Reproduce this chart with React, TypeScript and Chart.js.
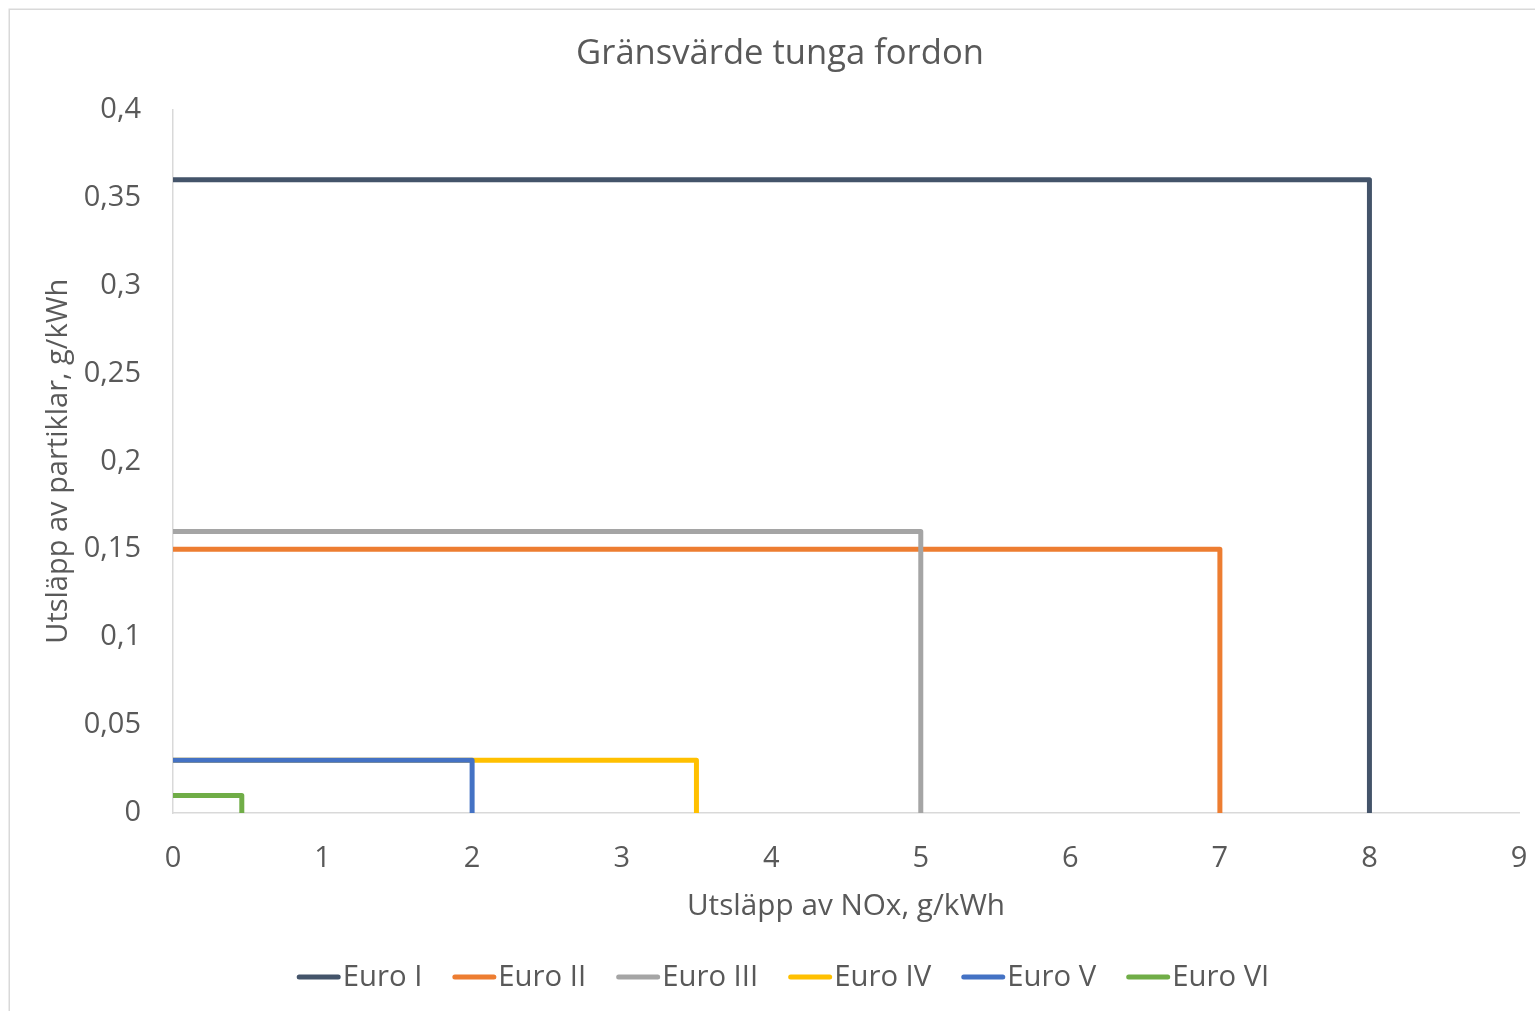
import React, { useEffect, useRef } from "react";
import { Chart, registerables } from "chart.js";

Chart.register(...registerables);

// ---- Data ----
const chartTitle = "Gränsvärde tunga fordon";
const xAxisTitle = "Utsläpp av NOx, g/kWh";
const yAxisTitle = "Utsläpp av partiklar, g/kWh";
const seriesNames = ["Euro I", "Euro II", "Euro III", "Euro IV", "Euro V", "Euro VI"];
const noxLimits = [8, 7, 5, 3.5, 2, 0.46];
const pmLimits = [0.36, 0.15, 0.16, 0.03, 0.03, 0.01];
const seriesColors = ["#44546A", "#ED7D31", "#A5A5A5", "#FFC000", "#4472C4", "#70AD47"];
const xMin = 0;
const xMax = 9;
const xStep = 1;
const yMin = 0;
const yMax = 0.4;
const yStep = 0.05;

const FONT = "'Open Sans', 'Noto Sans', sans-serif";
const TEXT = "#595959";
const AXIS = "#D9D9D9";

const formatY = (v: number) => String(Number(v.toFixed(2))).replace(".", ",");

const backgroundPlugin = {
  id: "bgBorder",
  beforeDraw(chart: any) {
    const { ctx, width, height } = chart;
    ctx.save();
    ctx.fillStyle = "#ffffff";
    ctx.fillRect(0, 0, width, height);
    ctx.strokeStyle = AXIS;
    ctx.lineWidth = 1.5;
    ctx.strokeRect(9.25, 9.25, width + 50, height + 50);
    ctx.restore();
  },
};

const legendPlugin = {
  id: "customLegend",
  afterDraw(chart: any) {
    const { ctx } = chart;
    const lineLen = 44;
    const textGap = 2;
    const itemGap = 30;
    const centerX = 783;
    const y = 978;
    ctx.save();
    ctx.font = `29.3px ${FONT}`;
    const widths = seriesNames.map((n) => ctx.measureText(n).width);
    let total = 0;
    widths.forEach((w, i) => {
      total += lineLen + textGap + w + (i < widths.length - 1 ? itemGap : 0);
    });
    let x = centerX - total / 2;
    seriesNames.forEach((name, i) => {
      ctx.strokeStyle = seriesColors[i];
      ctx.lineWidth = 5;
      ctx.lineCap = "round";
      ctx.beginPath();
      ctx.moveTo(x + 2.5, y - 1);
      ctx.lineTo(x + lineLen - 2.5, y - 1);
      ctx.stroke();
      ctx.fillStyle = TEXT;
      ctx.textBaseline = "middle";
      ctx.textAlign = "left";
      ctx.fillText(name, x + lineLen + textGap, y);
      x += lineLen + textGap + widths[i] + itemGap;
    });
    ctx.restore();
  },
};

export default function App() {
  const canvasRef = useRef<HTMLCanvasElement | null>(null);

  useEffect(() => {
    if (!canvasRef.current) return;
    const datasets = seriesNames.map((name, i) => ({
      label: name,
      data: [
        { x: 0, y: pmLimits[i] },
        { x: noxLimits[i], y: pmLimits[i] },
        { x: noxLimits[i], y: 0 },
      ],
      showLine: true,
      borderColor: seriesColors[i],
      backgroundColor: seriesColors[i],
      borderWidth: 5,
      borderJoinStyle: "round" as const,
      pointRadius: 0,
      pointHoverRadius: 0,
      order: seriesNames.length - 1 - i,
    }));

    const chart = new Chart(canvasRef.current, {
      type: "scatter",
      data: { datasets },
      plugins: [backgroundPlugin, legendPlugin],
      options: {
        animation: false,
        responsive: true,
        maintainAspectRatio: false,
        layout: { padding: { left: 41, right: 16, top: 0, bottom: 71 } },
        plugins: {
          legend: { display: false },
          tooltip: { enabled: false },
          title: {
            display: true,
            text: chartTitle,
            color: TEXT,
            font: { family: FONT, size: 34.6, weight: "normal" },
            padding: { top: 33, bottom: 35 },
          },
        },
        scales: {
          x: {
            type: "linear",
            min: xMin,
            max: xMax,
            grid: { display: false, drawTicks: false },
            border: { display: true, color: AXIS, width: 1.5 },
            ticks: {
              stepSize: xStep,
              color: TEXT,
              font: { family: FONT, size: 29 },
              padding: 28,
              maxRotation: 0,
            },
            title: {
              display: true,
              text: xAxisTitle,
              color: TEXT,
              font: { family: FONT, size: 29.7 },
              padding: { top: 0, bottom: 16 },
            },
            afterFit: (scale: any) => {
              scale.height = 127;
              scale.paddingLeft = 0;
              scale.paddingRight = 0;
            },
          },
          y: {
            type: "linear",
            min: yMin,
            max: yMax,
            grid: { display: false, drawTicks: false },
            border: { display: true, color: AXIS, width: 1.5 },
            ticks: {
              stepSize: yStep,
              color: TEXT,
              font: { family: FONT, size: 29 },
              padding: 32,
              callback: (v: any) => formatY(Number(v)),
            },
            title: {
              display: true,
              text: yAxisTitle,
              color: TEXT,
              font: { family: FONT, size: 29 },
              padding: { top: 0, bottom: 0 },
            },
            afterFit: (scale: any) => {
              scale.width = 132;
              scale.paddingTop = 0;
              scale.paddingBottom = 0;
            },
          },
        },
      },
    });
    return () => chart.destroy();
  }, []);

  return (
    <div style={{ position: "absolute", left: 0, top: 0, width: "1535px", height: "1011px" }}>
      <canvas ref={canvasRef} />
    </div>
  );
}
